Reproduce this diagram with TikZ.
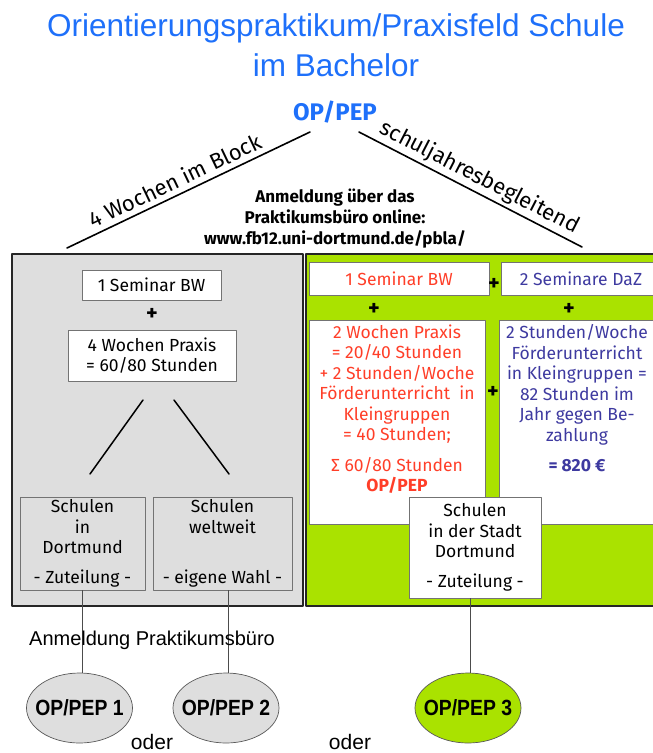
\documentclass[tikz,border=0pt]{standalone}
\usepackage{fontspec}
\setmainfont{Fira Sans}
\newfontfamily\arialfont{Liberation Sans}
\newfontfamily\narrowfont[FakeStretch=0.88]{Liberation Sans}
\usetikzlibrary{positioning,shapes.geometric}

\definecolor{titleblue}{RGB}{30,112,250}
\definecolor{limegreen}{RGB}{170,226,0}
\definecolor{boxgray}{RGB}{222,222,222}
\definecolor{redtext}{RGB}{255,62,40}
\definecolor{daztext}{RGB}{62,58,160}

\tikzset{
  title/.style={text=titleblue,font=\arialfont\fontsize{31.5}{36}\selectfont,inner sep=0pt},
  oppep/.style={text=titleblue,font=\bfseries\fontsize{24}{26}\selectfont,inner sep=0pt},
  branch/.style={font=\fontsize{22}{24}\selectfont,inner sep=3pt},
  panel/.style={draw=black!85,line width=2.2pt},
  box/.style={draw=black!55,line width=0.8pt,fill=white,align=center,
    font=\fontsize{17.5}{20.5}\selectfont,inner sep=0pt},
  boxtext/.style={align=center,font=\fontsize{17.5}{20.5}\selectfont,inner sep=0pt},
  plus/.style={font=\bfseries\fontsize{22}{22}\selectfont,inner sep=0pt},
  oval/.style={ellipse,draw=black!65,line width=0.7pt,minimum width=106,minimum height=70,
    inner xsep=-12pt,inner ysep=0pt,font=\narrowfont\bfseries\fontsize{22}{24}\selectfont},
  regtext/.style={font=\arialfont\fontsize{20}{22}\selectfont,inner sep=0pt},
  drop/.style={black!70,line width=0.7pt}
}

\begin{document}
\begin{tikzpicture}[x=1pt,y=-1pt,line cap=round,line join=round]
\useasboundingbox (0,0) rectangle (653,753);

% Titel
\node[title] (title) at (336,28) {Orientierungspraktikum/Praxisfeld Schule};
\node[title] (subtitle) at (336,65) {im Bachelor};
\node[oppep] (top) at (335,112) {OP/PEP};

% Verzweigung
\coordinate (lefttop) at (310,132);
\coordinate (leftend) at (67,248);
\coordinate (righttop) at (359,132);
\coordinate (rightend) at (582,247);
\draw[line width=1.6pt] (leftend) -- node[sloped,above=2pt,branch,pos=0.47] {4 Wochen im Block} (lefttop);
\draw[line width=1.6pt] (righttop) -- node[sloped,above,branch,pos=0.51] {schuljahresbegleitend} (rightend);
\node[boxtext,font=\bfseries\fontsize{17}{21}\selectfont] (online) at (335,219)
  {Anmeldung über das\\Praktikumsbüro online:\\www.fb12.uni-dortmund.de/pbla/};

% Block
\draw[panel,fill=boxgray] (12,254) rectangle (303,606);
\node[box,minimum width=139,minimum height=30] (bwleft) at (151.5,285) {1 Seminar BW};
\node[plus] (plusleft) at (152,314) {+};
\node[box,minimum width=168,minimum height=51] (praxis) at (152,355.5) {4 Wochen Praxis\\= 60/80 Stunden};
\coordinate (forkla) at (143,400);
\coordinate (forklb) at (90,474);
\coordinate (forkra) at (174,400);
\coordinate (forkrb) at (229,474);
\draw[line width=1.5pt] (forkla) -- (forklb);
\draw[line width=1.5pt] (forkra) -- (forkrb);
\node[box,fill=boxgray,minimum width=125,minimum height=93] (dortmund) at (82.5,543.5)
  {Schulen\\in\\Dortmund\\[9pt]- Zuteilung -};
\node[box,fill=boxgray,minimum width=139,minimum height=93] (weltweit) at (222.5,543.5)
  {Schulen\\weltweit\\[29.5pt]- eigene Wahl -};

% schuljahresbegleitend
\draw[panel,fill=limegreen] (306,254) rectangle (662,606);
\node[box,text=redtext,minimum width=180,minimum height=33] (bwright) at (399,278.5) {1 Seminar BW};
\node[box,text=daztext,minimum width=160,minimum height=33] (daz) at (581,278.5) {2 Seminare DaZ};
\node[plus] (plusa) at (494,284) {+};
\node[plus] (plusb) at (374,309) {+};
\node[plus] (plusc) at (569,309) {+};
\node[box,minimum width=176,minimum height=204] (redbox) at (397,422) {};
\node[box,minimum width=162,minimum height=204] (bluebox) at (580,422) {};
\node[plus] (plusd) at (493,392) {+};
\node[boxtext,text=redtext,below=5pt of redbox.north] (redtxt)
  {2 Wochen Praxis\\= 20/40 Stunden\\+ 2 Stunden/Woche\\Förderunterricht~ in\\Kleingruppen\\= 40 Stunden;\\[10pt]Σ 60/80 Stunden\\\textbf{OP/PEP}};
\node[boxtext,text=daztext,below=5pt of bluebox.north,xshift=-3pt] (dazttxt)
  {2 Stunden/Woche\\Förderunterricht\\in Kleingruppen =\\82 Stunden im\\Jahr gegen Be-\\zahlung\\[10pt]\textbf{= 820 €}};
\node[box,minimum width=132,minimum height=101] (stadt) at (475,547.5)
  {Schulen\\in der Stadt\\Dortmund\\[9pt]- Zuteilung -};

% Abschluss
\node[oval,fill=boxgray] (op1) at (79.5,708) {OP/PEP 1};
\node[oval,fill=boxgray] (op2) at (226,708) {OP/PEP 2};
\node[oval,fill=limegreen] (op3) at (468,708) {OP/PEP 3};
\coordinate (dropa) at (82.5,0);
\coordinate (dropb) at (228.7,0);
\coordinate (dropc) at (470.7,0);
\draw[drop] (dropa |- dortmund.south) -- (dropa |- op1.north);
\draw[drop] (dropb |- weltweit.south) -- (dropb |- op2.north);
\draw[drop] (dropc |- stadt.south) -- (dropc |- op3.north);
\node[regtext] (anm) at (152,640) {Anmeldung Praktikumsbüro};
\node[regtext,font=\arialfont\fontsize{21}{22}\selectfont] (odera) at (152,742) {oder};
\node[regtext,font=\arialfont\fontsize{21}{22}\selectfont] (oderb) at (350,742) {oder};
\end{tikzpicture}
\end{document}
